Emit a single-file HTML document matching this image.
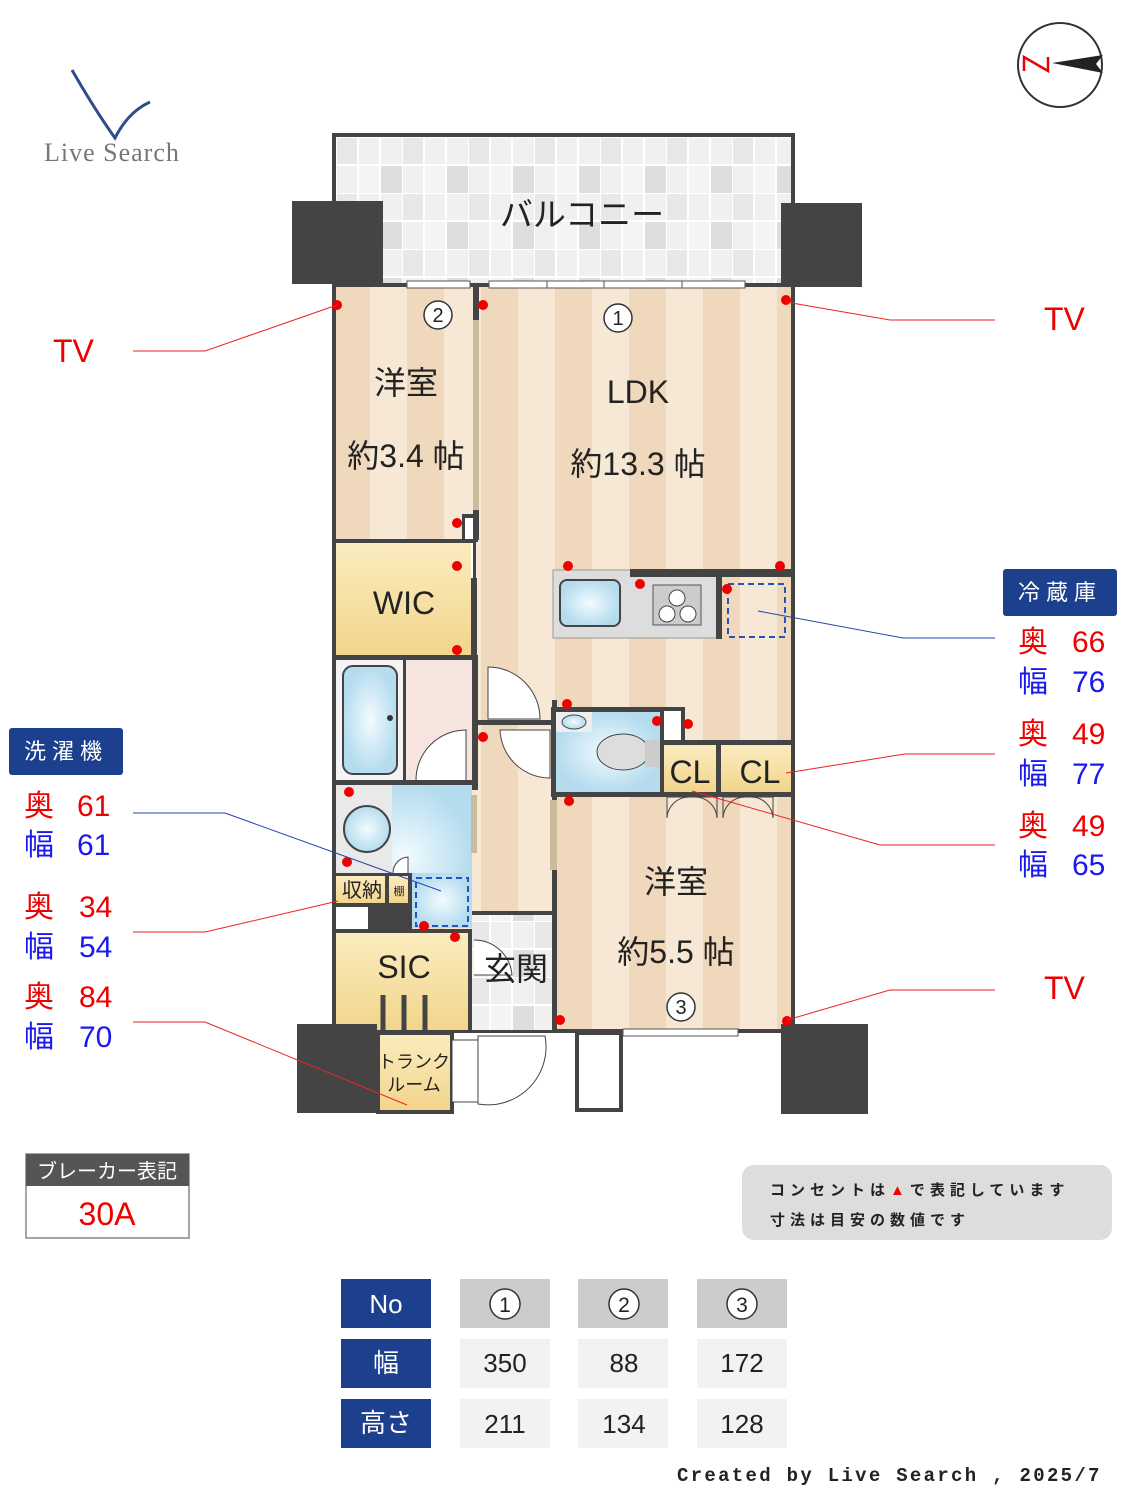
<!DOCTYPE html>
<html><head><meta charset="utf-8"><style>
body{margin:0;background:#fff}
svg{display:block}
text{font-family:"Liberation Sans","Noto Sans CJK JP",sans-serif}
</style></head><body>
<svg width="1125" height="1500" viewBox="0 0 1125 1500" xmlns="http://www.w3.org/2000/svg">
<defs>
<pattern id="st" x="0" y="0" width="74" height="10" patternUnits="userSpaceOnUse">
<rect width="74" height="10" fill="#f6e8d4"/><rect x="37" width="37" height="10" fill="#efd8bc"/>
</pattern>
<pattern id="tile" x="336" y="137" width="66" height="56" patternUnits="userSpaceOnUse">
<rect width="66" height="56" fill="#f0f0f0"/>
<rect x="0" y="0" width="22" height="28" fill="#e8e8e8"/><rect x="44" y="28" width="22" height="28" fill="#dedede"/>
<rect x="22" y="28" width="22" height="28" fill="#f4f4f4"/>
<path d="M0 0H66M0 28H66M0 0V56M22 0V56M44 0V56" stroke="#fff" stroke-width="2"/>
</pattern>
<linearGradient id="yel" x1="0" y1="0" x2="0" y2="1"><stop offset="0" stop-color="#fbecbf"/><stop offset="1" stop-color="#f2d58c"/></linearGradient>
<radialGradient id="blu"><stop offset="0" stop-color="#f2fbff"/><stop offset="1" stop-color="#b5dcee"/></radialGradient>
</defs>

<!-- logo -->
<path d="M72 70 Q95 110 115 138 Q128 112 150 102" fill="none" stroke="#2e4d8a" stroke-width="3"/>
<text x="44" y="161" style="font-family:'Liberation Serif',serif" font-size="26" letter-spacing="1" fill="#777">Live Search</text>

<!-- compass -->
<circle cx="1060" cy="65" r="42" fill="#fff" stroke="#333" stroke-width="2"/>
<path d="M1052 63 L1103 55 L1096 64 L1103 73 Z" fill="#222"/>
<path d="M1024 71 V57 L1048 71 V57" fill="none" stroke="#e00" stroke-width="2.5"/>

<!-- balcony -->
<rect x="332" y="133" width="463" height="154" fill="#444"/>
<rect x="336" y="137" width="455" height="146" fill="url(#tile)"/>
<text x="582" y="226" font-size="33" text-anchor="middle" fill="#222">バルコニー</text>
<rect x="292" y="201" width="91" height="83" fill="#444"/>
<rect x="781" y="203" width="81" height="84" fill="#444"/>

<!-- main outer -->
<rect x="332" y="283" width="463" height="750" fill="#444"/>
<rect x="336" y="287" width="455" height="742" fill="url(#st)"/>
<rect x="407" y="281" width="63" height="7" fill="#fff" stroke="#555"/>
<rect x="489" y="281" width="256" height="7" fill="#fff" stroke="#555"/>
<path d="M547 281v7M604 281v7M682 281v7" stroke="#555"/>
<rect x="473" y="287" width="6" height="255" fill="#444"/>
<rect x="473" y="320" width="6" height="190" fill="#c9bc9b"/>
<rect x="462" y="514" width="14" height="70" fill="#444"/><rect x="465" y="518" width="8" height="62" fill="#fff"/>

<!-- WIC -->
<rect x="332" y="539" width="144" height="4" fill="#444"/>
<rect x="336" y="543" width="135" height="112" fill="url(#yel)"/>
<rect x="471" y="578" width="6" height="80" fill="#444"/>
<text x="404" y="614" font-size="32" text-anchor="middle" fill="#222">WIC</text>
<path d="M478 593 A52 52 0 0 1 532 647 L478 647" fill="#fff" stroke="#444"/>

<!-- bath -->
<rect x="332" y="655" width="146" height="135" fill="#444"/>
<rect x="336" y="660" width="67" height="120" fill="#f4f4f4"/>
<rect x="343" y="666" width="54" height="108" rx="10" fill="url(#blu)" stroke="#444" stroke-width="2"/>
<circle cx="390" cy="718" r="3" fill="#333"/>
<rect x="406" y="660" width="66" height="120" fill="#f6e4de"/>
<path d="M416 780 A50 50 0 0 1 466 730 L466 780" fill="#fff" stroke="#444"/>
<!-- washroom -->
<rect x="336" y="785" width="136" height="143" fill="url(#blu)"/>
<rect x="336" y="785" width="56" height="90" fill="#e9e9e9"/>
<circle cx="367" cy="829" r="23" fill="url(#blu)" stroke="#444" stroke-width="2"/>
<rect x="471" y="795" width="6" height="58" fill="#c9bc9b"/>
<path d="M393 873 A16 16 0 0 1 408 857 L408 873" fill="#fff" stroke="#444"/>
<rect x="332" y="873" width="80" height="60" fill="#444"/>
<rect x="336" y="876" width="49" height="27" fill="url(#yel)"/>
<rect x="389" y="876" width="19" height="27" fill="url(#yel)"/>
<text x="362" y="897" font-size="20" text-anchor="middle" fill="#222">収納</text>
<text x="399" y="895" font-size="11" text-anchor="middle" fill="#222">棚</text>
<rect x="336" y="907" width="32" height="22" fill="#fff"/>
<rect x="412" y="873" width="60" height="55" fill="url(#blu)"/>
<rect x="416" y="878" width="52" height="48" fill="none" stroke="#2255bb" stroke-width="2" stroke-dasharray="6,4"/>
<!-- SIC -->
<rect x="336" y="933" width="132" height="97" fill="url(#yel)"/>
<rect x="371" y="929" width="101" height="4" fill="#444"/>
<rect x="468" y="929" width="4" height="101" fill="#444"/>
<text x="404" y="978" font-size="32" text-anchor="middle" fill="#222">SIC</text>
<path d="M383 995v38M404 995v38M425 995v38" stroke="#444" stroke-width="5"/>
<!-- hallway -->
<rect x="478" y="540" width="74" height="375" fill="url(#st)"/>
<path d="M488 667 A52 52 0 0 1 540 719 L488 719Z" fill="#fff" stroke="#444"/>
<rect x="478" y="720" width="80" height="5" fill="#444"/>
<path d="M550 778 A50 50 0 0 1 500 730 L550 730Z" fill="#fff" stroke="#444"/>
<!-- genkan -->
<rect x="472" y="911" width="84" height="4" fill="#444"/>
<rect x="472" y="915" width="80" height="115" fill="url(#tile)"/>
<path d="M474 940 A38 38 0 0 1 512 975 L474 975" fill="#fff" stroke="#444"/>
<text x="516" y="980" font-size="32" text-anchor="middle" fill="#222">玄関</text>
<rect x="552" y="700" width="5" height="330" fill="#444"/>
<rect x="550" y="800" width="7" height="70" fill="#c9bc9b"/>

<!-- kitchen -->
<rect x="553" y="570" width="164" height="68" fill="#ddd" stroke="#999"/>
<rect x="630" y="569" width="165" height="8" fill="#444"/>
<rect x="560" y="580" width="60" height="46" rx="7" fill="url(#blu)" stroke="#444" stroke-width="2"/>
<rect x="653" y="585" width="48" height="40" fill="#ccc" stroke="#555"/>
<circle cx="677" cy="598" r="8" fill="#fff" stroke="#444"/><circle cx="667" cy="614" r="8" fill="#fff" stroke="#444"/><circle cx="688" cy="614" r="8" fill="#fff" stroke="#444"/>
<rect x="716" y="577" width="6" height="62" fill="#444"/>
<rect x="728" y="584" width="57" height="53" fill="none" stroke="#2255bb" stroke-width="2" stroke-dasharray="6,4"/>
<!-- toilet -->
<rect x="551" y="707" width="134" height="90" fill="#444"/>
<rect x="556" y="712" width="104" height="80" fill="url(#blu)"/>
<rect x="556" y="712" width="36" height="20" fill="#eee"/>
<ellipse cx="574" cy="722" rx="12" ry="7" fill="url(#blu)" stroke="#444"/>
<ellipse cx="623" cy="752" rx="26" ry="18" fill="#ddd" stroke="#444"/>
<rect x="645" y="740" width="15" height="27" fill="#ccc"/>
<rect x="664" y="711" width="17" height="30" fill="#fff"/>
<rect x="660" y="740" width="135" height="57" fill="#444"/>
<rect x="664" y="745" width="52" height="47" fill="url(#yel)"/>
<rect x="721" y="745" width="70" height="47" fill="url(#yel)"/>
<text x="690" y="783" font-size="32" text-anchor="middle" fill="#222">CL</text>
<text x="760" y="783" font-size="32" text-anchor="middle" fill="#222">CL</text>
<path d="M667 818V797H717V818 M667 818A22 22 0 0 1 689 797 M717 818A22 22 0 0 0 695 797 M723 818V797H773V818 M723 818A22 22 0 0 1 745 797 M773 818A22 22 0 0 0 751 797" fill="none" stroke="#444"/>

<!-- bottom exterior -->
<rect x="297" y="1024" width="80" height="89" fill="#444"/>
<rect x="376" y="1030" width="78" height="84" fill="#444"/>
<rect x="380" y="1035" width="70" height="75" fill="url(#yel)"/>
<text x="414" y="1068" font-size="18" text-anchor="middle" fill="#222">トランク</text>
<text x="414" y="1091" font-size="18" text-anchor="middle" fill="#222">ルーム</text>
<path d="M478 1104 A58 58 0 0 0 545 1036 L478 1036Z" fill="#fff" stroke="#444"/>
<rect x="452" y="1040" width="26" height="62" fill="#fff" stroke="#444"/>
<rect x="575" y="1030" width="48" height="82" fill="#444"/><rect x="579" y="1035" width="40" height="73" fill="#fff"/>
<rect x="781" y="1024" width="87" height="90" fill="#444"/>
<rect x="623" y="1029" width="115" height="7" fill="#fff" stroke="#555"/>

<!-- room labels -->
<g font-size="32" fill="#222" text-anchor="middle">
<text x="406" y="394">洋室</text>
<text x="406" y="467">約3.4 帖</text>
<text x="638" y="403">LDK</text>
<text x="638" y="475">約13.3 帖</text>
<text x="676" y="893">洋室</text>
<text x="676" y="963">約5.5 帖</text>
</g>
<g fill="#fff" stroke="#333" stroke-width="1.5">
<circle cx="438" cy="315" r="14"/><circle cx="618" cy="318" r="14"/><circle cx="681" cy="1007" r="14"/>
</g>
<g font-size="20" text-anchor="middle" fill="#222">
<text x="438" y="322">2</text><text x="618" y="325">1</text><text x="681" y="1014">3</text>
</g>

<!-- outlets -->
<g fill="#e00">
<circle cx="337" cy="305" r="5"/><circle cx="483" cy="305" r="5"/><circle cx="786" cy="300" r="5"/>
<circle cx="457" cy="523" r="5"/><circle cx="457" cy="566" r="5"/><circle cx="457" cy="650" r="5"/>
<circle cx="568" cy="566" r="5"/><circle cx="640" cy="584" r="5"/><circle cx="780" cy="566" r="5"/><circle cx="727" cy="589" r="5"/>
<circle cx="567" cy="704" r="5"/><circle cx="657" cy="721" r="5"/><circle cx="688" cy="724" r="5"/>
<circle cx="483" cy="737" r="5"/><circle cx="569" cy="801" r="5"/>
<circle cx="349" cy="792" r="5"/><circle cx="347" cy="862" r="5"/><circle cx="424" cy="926" r="5"/><circle cx="455" cy="937" r="5"/>
<circle cx="560" cy="1020" r="5"/><circle cx="787" cy="1021" r="5"/>
</g>

<!-- leader lines -->
<g fill="none" stroke-width="1">
<path d="M133 351H205L337 305" stroke="#e22"/>
<path d="M995 320H890L786 302" stroke="#e22"/>
<path d="M995 990H890L787 1020" stroke="#e22"/>
<path d="M995 638H903L758 611" stroke="#2244aa"/>
<path d="M995 754H905L786 773" stroke="#e22"/>
<path d="M995 845H880L692 791" stroke="#e22"/>
<path d="M133 813H225L441 891" stroke="#2244aa"/>
<path d="M133 932H205L338 901" stroke="#e22"/>
<path d="M133 1022H205L407 1105" stroke="#e22"/>
</g>

<g font-size="32" fill="#e00">
<text x="53" y="362">TV</text><text x="1044" y="330">TV</text><text x="1044" y="999">TV</text>
</g>

<rect x="1003" y="569" width="114" height="47" rx="3" fill="#1c3f8e"/>
<text x="1060" y="600" font-size="22" fill="#fff" text-anchor="middle" letter-spacing="6">冷蔵庫</text>
<g font-size="30">
<text x="1018" y="652" fill="#e00">奥</text><text x="1072" y="652" fill="#e00">66</text>
<text x="1018" y="692" fill="#1a1aee">幅</text><text x="1072" y="692" fill="#1a1aee">76</text>
<text x="1018" y="744" fill="#e00">奥</text><text x="1072" y="744" fill="#e00">49</text>
<text x="1018" y="784" fill="#1a1aee">幅</text><text x="1072" y="784" fill="#1a1aee">77</text>
<text x="1018" y="836" fill="#e00">奥</text><text x="1072" y="836" fill="#e00">49</text>
<text x="1018" y="875" fill="#1a1aee">幅</text><text x="1072" y="875" fill="#1a1aee">65</text>
</g>
<rect x="9" y="728" width="114" height="47" rx="3" fill="#1c3f8e"/>
<text x="66" y="759" font-size="22" fill="#fff" text-anchor="middle" letter-spacing="6">洗濯機</text>
<g font-size="30">
<text x="24" y="816" fill="#e00">奥</text><text x="77" y="816" fill="#e00">61</text>
<text x="24" y="855" fill="#1a1aee">幅</text><text x="77" y="855" fill="#1a1aee">61</text>
<text x="24" y="917" fill="#e00">奥</text><text x="79" y="917" fill="#e00">34</text>
<text x="24" y="957" fill="#1a1aee">幅</text><text x="79" y="957" fill="#1a1aee">54</text>
<text x="24" y="1007" fill="#e00">奥</text><text x="79" y="1007" fill="#e00">84</text>
<text x="24" y="1047" fill="#1a1aee">幅</text><text x="79" y="1047" fill="#1a1aee">70</text>
</g>

<rect x="26" y="1154" width="163" height="84" fill="#fff" stroke="#888" stroke-width="1.5"/>
<rect x="26" y="1154" width="163" height="32" fill="#555"/>
<text x="107" y="1178" font-size="20" fill="#fff" text-anchor="middle">ブレーカー表記</text>
<text x="107" y="1225" font-size="32" fill="#e00" text-anchor="middle">30A</text>

<rect x="742" y="1165" width="370" height="75" rx="12" fill="#ddd"/>
<text x="770" y="1195" font-size="15" font-weight="bold" fill="#222" letter-spacing="5">コンセントは<tspan fill="#e00">▲</tspan>で表記しています</text>
<text x="770" y="1225" font-size="15" font-weight="bold" fill="#222" letter-spacing="5">寸法は目安の数値です</text>

<g>
<rect x="341" y="1279" width="90" height="49" fill="#1c3f8e"/>
<rect x="341" y="1339" width="90" height="49" fill="#1c3f8e"/>
<rect x="341" y="1399" width="90" height="49" fill="#1c3f8e"/>
<rect x="460" y="1279" width="90" height="49" fill="#ccc"/><rect x="578" y="1279" width="90" height="49" fill="#ccc"/><rect x="697" y="1279" width="90" height="49" fill="#ccc"/>
<rect x="460" y="1339" width="90" height="49" fill="#f2f2f2"/><rect x="578" y="1339" width="90" height="49" fill="#f2f2f2"/><rect x="697" y="1339" width="90" height="49" fill="#f2f2f2"/>
<rect x="460" y="1399" width="90" height="49" fill="#f2f2f2"/><rect x="578" y="1399" width="90" height="49" fill="#f2f2f2"/><rect x="697" y="1399" width="90" height="49" fill="#f2f2f2"/>
</g>
<g font-size="26" text-anchor="middle">
<text x="386" y="1313" fill="#fff">No</text><text x="386" y="1372" fill="#fff">幅</text><text x="386" y="1432" fill="#fff">高さ</text>
<text x="505" y="1372" fill="#222">350</text><text x="624" y="1372" fill="#222">88</text><text x="742" y="1372" fill="#222">172</text>
<text x="505" y="1433" fill="#222">211</text><text x="624" y="1433" fill="#222">134</text><text x="742" y="1433" fill="#222">128</text>
</g>
<g fill="#fff" stroke="#333" stroke-width="1.5">
<circle cx="505" cy="1304" r="15"/><circle cx="624" cy="1304" r="15"/><circle cx="742" cy="1304" r="15"/>
</g>
<g font-size="21" text-anchor="middle" fill="#222">
<text x="505" y="1312">1</text><text x="624" y="1312">2</text><text x="742" y="1312">3</text>
</g>
<text x="677" y="1481" style="font-family:'Liberation Mono',monospace" font-weight="bold" font-size="19" fill="#222" letter-spacing="2.3">Created by Live Search , 2025/7</text>
</svg>
</body></html>
